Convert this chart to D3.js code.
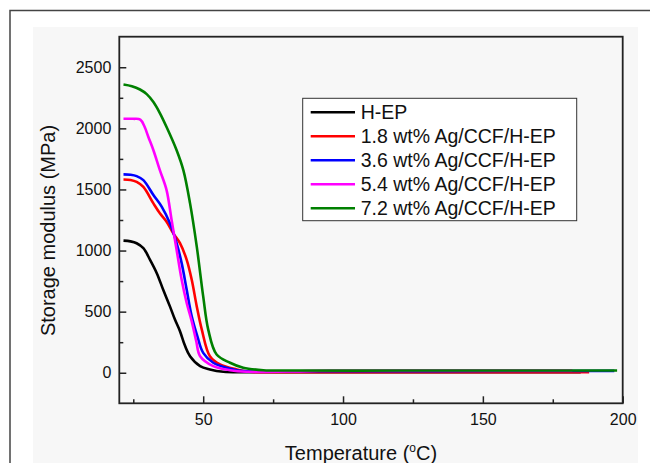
<!DOCTYPE html>
<html>
<head>
<meta charset="utf-8">
<script src="https://cdn.jsdelivr.net/npm/d3@7"></script>
<style>
  body { margin: 0; background: #fff; }
  svg { display: block; font-family: Arial, "Liberation Sans", sans-serif; }
</style>
</head>
<body>
<div id="chart"></div>
<script>
// Series: [temperature °C, storage modulus MPa]
const seriesNames = ["H-EP", "1.8 wt% Ag/CCF/H-EP", "3.6 wt% Ag/CCF/H-EP", "5.4 wt% Ag/CCF/H-EP", "7.2 wt% Ag/CCF/H-EP"];
const seriesColors = ["#000000", "#ff0000", "#0000ff", "#ff00ff", "#008000"];

const hEP = [[21.5,1081],[24,1075],[26.2,1060],[28.6,1019],[31,924],[33.4,815],[35.7,679],[38.1,543],[39.9,435],[41.7,340],
  [43.5,220],[45.3,135],[48.9,54],[52.4,27],[57.2,8],[65,4],[100,4],[150,4],[185,4]];
const ag18 = [[21.5,1582],[24,1578],[26.2,1562],[28.6,1521],[32.2,1386],[34.5,1305],[36.9,1236],[39.3,1141],[41.7,1060],[44.1,924],
  [45.9,761],[47.7,543],[49.5,353],[52.4,135],[56,68],[62,27],[66.7,8],[80,5],[120,5],[160,5],[188,5]];
const ag36 = [[21.5,1623],[24,1620],[26.2,1609],[28.6,1576],[32.2,1454],[35.2,1358],[38.1,1223],[40.5,1060],[42.3,897],[44.1,679],
  [45.9,462],[47.9,300],[50,163],[53.6,82],[59.6,33],[65.5,11],[80,12],[120,13],[160,14],[197,15]];
const ag54 = [[21.5,2079],[25,2078],[27.5,2072],[29,2015],[30.4,1929],[32.2,1821],[34.5,1658],[36.9,1495],[38.7,1250],[40.5,1005],[42.3,761],
  [44.1,571],[45.9,420],[47.5,260],[48.9,135],[53.6,54],[59.6,21],[65.5,8],[80,10],[95,18],[130,20],[182,20]];
const ag72 = [[21.5,2359],[24.5,2345],[27.4,2318],[29.8,2280],[32.2,2215],[34.5,2125],[36.9,2011],[40.5,1821],[42.9,1658],[45.3,1386],[47.7,1032],[50,625],
  [51.8,353],[54.8,149],[59.6,82],[64.3,41],[71.5,21],[80,18],[120,18],[160,18],[198,18]];
const seriesValues = [hEP, ag18, ag36, ag54, ag72];

const xMajorTicks = [50, 100, 150, 200];
const xMinorTicks = [25, 75, 125, 175];
const yMajorTicks = [0, 500, 1000, 1500, 2000, 2500];
const yMinorTicks = [250, 750, 1250, 1750, 2250];

const W = 650, H = 463;
const margin = {left: 119.3, top: 36.7, right: 650 - 622.7, bottom: 463 - 403.3};
const iw = W - margin.left - margin.right;
const ih = H - margin.top - margin.bottom;

const svg = d3.select("#chart").append("svg")
  .attr("width", W).attr("height", H)
  .attr("viewBox", `0 0 ${W} ${H}`);

// faint grey page and outer frame
svg.append("rect").attr("x", 33).attr("y", 27).attr("width", 605).attr("height", 440).attr("fill", "#f7f7f7");
svg.append("rect").attr("x", 10).attr("y", 10.5).attr("width", 700).attr("height", 500)
  .attr("fill", "none").attr("stroke", "#444").attr("stroke-width", 1.5);

const g = svg.append("g").attr("transform", `translate(${margin.left},${margin.top})`);

const x = d3.scaleLinear().domain([20, 200]).range([0, iw]);
const y = d3.scaleLinear().domain([-250, 2750]).range([ih, 0]);

// axes, ticks pointing inward
g.append("g").attr("transform", `translate(0,${ih})`)
  .call(d3.axisBottom(x).tickValues(xMajorTicks).tickSize(-7).tickPadding(10).tickFormat(d3.format("d")));
g.append("g").attr("transform", `translate(0,${ih})`)
  .call(d3.axisBottom(x).tickValues(xMinorTicks).tickSize(-4).tickFormat(""));
g.append("g")
  .call(d3.axisLeft(y).tickValues(yMajorTicks).tickSize(-7).tickPadding(8).tickFormat(d3.format("d")));
g.append("g")
  .call(d3.axisLeft(y).tickValues(yMinorTicks).tickSize(-4).tickFormat(""));

g.selectAll(".domain").remove();
g.selectAll(".tick line").attr("stroke", "#222").attr("stroke-width", 1.5);
g.selectAll(".tick text").attr("font-size", 16).attr("fill", "#111")
  .attr("font-family", "Arial, 'Liberation Sans', sans-serif");

// curves
const line = d3.line()
  .x(d => x(d[0]))
  .y(d => y(d[1]))
  .curve(d3.curveCatmullRom.alpha(0.5));

g.append("g").selectAll("path")
  .data(seriesValues)
  .join("path")
  .attr("d", line)
  .attr("fill", "none")
  .attr("stroke", (d, i) => seriesColors[i])
  .attr("stroke-width", 2.6)
  .attr("stroke-linejoin", "round");

// plot frame
g.append("rect").attr("width", iw).attr("height", ih)
  .attr("fill", "none").attr("stroke", "#222").attr("stroke-width", 1.8);

// axis titles
svg.append("text")
  .attr("transform", "translate(55,230.5) rotate(-90)")
  .attr("text-anchor", "middle")
  .attr("font-size", 20).attr("fill", "#111")
  .text("Storage modulus (MPa)");

const xt = svg.append("text")
  .attr("x", 361).attr("y", 460)
  .attr("text-anchor", "middle")
  .attr("font-size", 20).attr("fill", "#111");
xt.append("tspan").text("Temperature (");
xt.append("tspan").attr("font-size", 12).attr("dy", -8).text("o");
xt.append("tspan").attr("dy", 8).text("C)");

// legend
const legend = svg.append("g");
legend.append("rect")
  .attr("x", 302.7).attr("y", 98.3).attr("width", 274).attr("height", 122.4)
  .attr("fill", "#fff").attr("stroke", "#333").attr("stroke-width", 1);

const rows = legend.selectAll("g.row")
  .data(seriesNames)
  .join("g")
  .attr("class", "row")
  .attr("transform", (d, i) => `translate(0,${112.3 + i * 24})`);
rows.append("line")
  .attr("x1", 310.7).attr("x2", 355)
  .attr("stroke", (d, i) => seriesColors[i]).attr("stroke-width", 2.6);
rows.append("text")
  .attr("x", 360.7).attr("dy", "0.35em")
  .attr("font-size", 19.5).attr("fill", "#111")
  .text(d => d);
</script>
</body>
</html>
